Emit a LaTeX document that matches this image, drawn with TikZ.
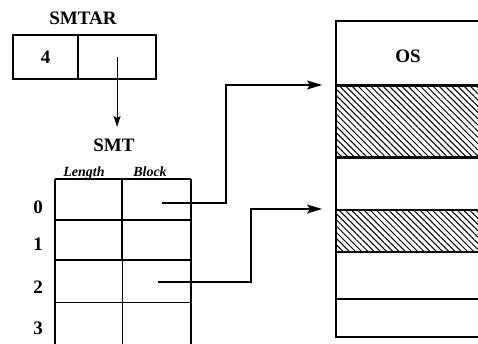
\documentclass[tikz,border=0pt]{standalone}
\usepackage{fontspec}
\setmainfont{Liberation Serif}
\usetikzlibrary{positioning,arrows.meta,patterns.meta}

\begin{document}
\begin{tikzpicture}[
    x=1pt, y=-1pt,
    every node/.style={font=\fontsize{19}{22}\selectfont\bfseries},
    cell/.style={draw, line width=1.2pt, anchor=north west, inner sep=0pt},
    memrow/.style={draw, line width=2pt, anchor=north west, inner sep=0pt, minimum width=170pt},
    hatch/.style={pattern={Lines[angle=-45, distance=4.4pt, line width=1pt]}},
    colhead/.style={font=\fontsize{14}{16}\selectfont\bfseries\itshape, anchor=base},
    ptr/.style={-{Stealth[length=15pt, width=9pt, inset=3pt]}, line width=1.4pt}
  ]
  \useasboundingbox (0,0) rectangle (478,344);
  \clip (0,0) rectangle (478,344);

  % SMTAR register
  \node (smtar) at (83,18) {SMTAR};
  \node[cell, line width=2.2pt, minimum width=65pt, minimum height=44pt] (ar4) at (12,34) {4};
  \node[cell, line width=2.2pt, minimum width=78pt, minimum height=44pt] (arptr) at (77,34) {};

  % SMT table
  \node (smt) at (114,145) {SMT};
  \node[colhead] (hlen) at (84,177) {Length};
  \node[colhead] (hblk) at (150,177) {Block};

  \node[cell, minimum width=67pt, minimum height=41pt] (len0) at (55,179) {};
  \node[cell, minimum width=68pt, minimum height=41pt] (blk0) at (122,179) {};
  \node[cell, minimum width=67pt, minimum height=40pt] (len1) at (55,220) {};
  \node[cell, minimum width=68pt, minimum height=40pt] (blk1) at (122,220) {};
  \node[cell, minimum width=67pt, minimum height=42pt] (len2) at (55,260) {};
  \node[cell, minimum width=68pt, minimum height=42pt] (blk2) at (122,260) {};
  \node[cell, minimum width=67pt, minimum height=50pt] (len3) at (55,302) {};
  \node[cell, minimum width=68pt, minimum height=50pt] (blk3) at (122,302) {};

  % heavier rules of the table
  \draw[line width=2.6pt] (len0.north west) -- (blk0.north east);
  \draw[line width=2.6pt] (len0.north west) -- (len3.south west);
  \draw[line width=2.6pt] (len1.north west) -- (blk1.north east);
  \draw[line width=2.6pt] (len2.north west) -- (blk2.north east);
  \draw[line width=2.6pt] (blk0.north west) -- (blk1.south west);
  \draw[line width=2pt] (blk0.north east) -- (blk3.south east);

  % row numbers
  \node (r0) at (38,207) {0};
  \node (r1) at (38,244) {1};
  \node (r2) at (38,287) {2};
  \node (r3) at (38,328) {3};

  % main memory
  \node[memrow, minimum height=65pt] (os) at (335,20) {};
  \node (oslabel) at (408,56) {OS};
  \node[memrow, hatch, minimum height=72pt] (segA) at (335,85) {};
  \node[memrow, minimum height=52pt] (freeA) at (335,157) {};
  \node[memrow, hatch, minimum height=42pt] (segB) at (335,209) {};
  \node[memrow, minimum height=47pt] (freeB) at (335,251) {};
  \node[memrow, minimum height=38pt] (freeC) at (335,298) {};

  % pointers
  \coordinate (smttop) at (116,127);
  \draw[-{Stealth[length=11pt, width=7pt, inset=2pt]}, line width=1.1pt]
    (arptr.center) -- (arptr.center |- smttop);

  \coordinate (p0) at (162,203);
  \coordinate (bend0) at (226,85);
  \coordinate (tip0) at ([xshift=-13pt]segA.north west);
  \draw[ptr, line width=1.2pt] (p0) -| (bend0) -- (tip0);

  \coordinate (p2) at (158,282);
  \coordinate (bend2) at (251,209);
  \coordinate (tip2) at ([xshift=-13pt]segB.north west);
  \draw[ptr, line width=1.8pt] (p2) -| (bend2) -- (tip2);

\end{tikzpicture}
\end{document}
